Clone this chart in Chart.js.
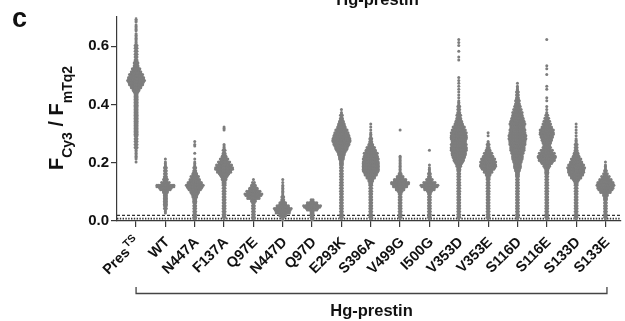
<!DOCTYPE html>
<html>
<head>
<meta charset="utf-8">
<script src="https://cdn.jsdelivr.net/npm/chart.js@4.4.1/dist/chart.umd.min.js"></script>
<style>
html, body { margin: 0; padding: 0; background: #fff; }
</style>
</head>
<body>
<canvas id="chart" width="625" height="321"></canvas>
<script>
const FONT = '"Liberation Sans", Arial, sans-serif';

// --- data ---
const categories = ["Pres", "WT", "N447A", "F137A", "Q97E", "N447D", "Q97D", "E293K", "S396A",
    "V499G", "I500G", "V353D", "V353E", "S116D", "S116E", "S133D", "S133E"];
const catSup = ["TS", "", "", "", "", "", "", "", "", "", "", "", "", "", "", "", ""];
const yTicks = [0, 0.2, 0.4, 0.6];

// each swarm: value of the top bin, then dots counted per 0.01 bin going down
const binStep = 0.01;
const binTop = [0.70, 0.21, 0.27, 0.32, 0.14, 0.14, 0.07, 0.38, 0.33, 0.31, 0.24, 0.62, 0.30, 0.47, 0.62, 0.33, 0.20];
const binCounts = [
    [1,2,1,2,2,1,2,2,2,2, 3,3,3,3,3,4, 5,6,9,12,15,18,19,16,12,8,5,4, 4,4,4,4,4,4,4,4,4,4,4,4,4, 3,3,3,3,3, 2,2,2,1,1],
    [1,2,2,3,3,3,4,5,9,20,13,6,4,4,4,4,3,3,2],
    [1,2,0,0,1,0,1,2,2,3,4,6,9,12,16,19,15,10,7,5,4,3,3,3,3,3,3],
    [2,1,0,0,0,0,2,2,3,4,6,9,13,17,20,16,11,7,5,4,3,3,3,3,3,3,3,3,3,3,3,3],
    [1,3,6,10,15,19,14,6,3,3,3,3,3,3],
    [1,1,2,2,2,2,3,4,8,14,19,16,8,3,2],
    [4,12,19,13,4,3,3,2],
    [1,2,3,4,6,8,10,13,16,18,20,19,17,14,11,8,6,5,4,3,3,3,3,3,3,3,3,3,3,3,3,3,3,3,3,3,3,3],
    [1,1,1,2,2,3,4,6,9,12,15,16,17,18,18,18,17,14,10,6,4,3,3,3,3,3,3,3,3,3,3,3,3],
    [1,0,0,0,0,0,0,0,0,2,2,2,2,2,2,4,8,14,20,16,10,5,3,3,3,3,3,3,3,3,3],
    [1,0,0,0,0,1,2,2,3,4,7,13,19,12,5,3,3,3,3,3,3,3,3,3],
    [1,1,1,0,1,0,1,1,0,0,0,0,0,1,1,1,1,1,1,1,1,2,2,3,3,4,5,6,8,10,13,15,17,18,17,16,17,18,17,16,14,12,9,6,4,
     3,3,3,3,3,3,3,3,3,3,3,3,3,3,3,3,3],
    [1,1,0,2,3,4,6,9,12,15,17,18,15,10,6,4,3,3,3,3,3,3,3,3,3,3,3,3,3,3],
    [1,2,2,3,3,4,5,6,7,9,11,12,14,16,17,16,17,18,19,19,18,17,16,15,13,12,11,9,8,7,5,4,
     3,3,3,3,3,3,3,3,3,3,3,3,3,3,3],
    [1,0,0,0,0,0,0,0,0,1,1,0,1,0,0,0,1,1,0,0,1,1,0,1,1,2,3,5,7,9,12,15,16,14,12,10,8,9,13,17,20,18,13,8,5,4,
     3,3,3,3,3,3,3,3,3,3,3,3,3,3,3,3],
    [1,1,1,1,1,2,2,3,3,4,6,8,11,14,17,19,18,16,12,7,4,3,3,3,3,3,3,3,3,3,3,3,3],
    [1,2,2,3,5,9,14,18,19,17,12,6,4,3,3,3,3,3,3,3]
];
const dashedLevel = 0.019;
const dottedLevel = 0.008;

const DOT_DX = 0.064;   // horizontal dot spacing, in category units

// swarm dots: each bin split into two rows, dots centred on the category
function buildSwarm(i) {
    const pts = [];
    binCounts[i].forEach((n, b) => {
        const v = binTop[i] - b * binStep;
        const rows = [[Math.ceil(n / 2), v + binStep / 4], [Math.floor(n / 2), v - binStep / 4]];
        rows.forEach(([k, y]) => {
            for (let j = 0; j < k; j++) {
                pts.push({ x: i + (j - (k - 1) / 2) * DOT_DX, y: y });
            }
        });
    });
    return pts;
}

const X_MIN = -0.65, X_MAX = 16.53;

const datasets = categories.map((c, i) => ({
    label: c,
    data: buildSwarm(i),
    pointRadius: 1.5,
    pointBackgroundColor: "#7d7d7d",
    pointBorderWidth: 0,
    showLine: false
}));
datasets.push({
    data: [{ x: X_MIN, y: dashedLevel }, { x: X_MAX, y: dashedLevel }],
    showLine: true, pointRadius: 0, borderColor: "#333", borderWidth: 1.2, borderDash: [3, 2]
});
datasets.push({
    data: [{ x: X_MIN, y: dottedLevel }, { x: X_MAX, y: dottedLevel }],
    showLine: true, pointRadius: 0, borderColor: "#333", borderWidth: 1.6, borderDash: [1.4, 1.4]
});

// text and bracket drawn over the chart
const overlay = {
    id: "overlay",
    afterDraw(chart) {
        const ctx = chart.ctx;
        const xs = chart.scales.x, ys = chart.scales.y;
        ctx.save();
        ctx.fillStyle = "#111";

        // rotated category labels
        categories.forEach((c, i) => {
            const px = xs.getPixelForValue(i);
            ctx.save();
            ctx.translate(px + 2, ys.bottom + 19);
            ctx.rotate(-Math.PI / 4);
            ctx.textAlign = "right";
            ctx.textBaseline = "middle";
            let end = 0;
            if (catSup[i]) {
                ctx.font = "bold 10.5px " + FONT;
                ctx.fillText(catSup[i], 0, -5);
                end = -ctx.measureText(catSup[i]).width - 1;
            }
            ctx.font = "bold 14.5px " + FONT;
            ctx.fillText(c, end, 0);
            ctx.restore();
        });

        // y title with subscripts
        const parts = [["F", 20, 0], ["Cy3", 14, 9], [" / F", 20, 0], ["mTq2", 14, 9]];
        ctx.save();
        ctx.translate(63, 118);
        ctx.rotate(-Math.PI / 2);
        ctx.textAlign = "left";
        ctx.textBaseline = "alphabetic";
        let total = 0;
        parts.forEach(p => { ctx.font = "bold " + p[1] + "px " + FONT; total += ctx.measureText(p[0]).width; });
        let x = -total / 2;
        parts.forEach(p => {
            ctx.font = "bold " + p[1] + "px " + FONT;
            ctx.fillText(p[0], x, p[2]);
            x += ctx.measureText(p[0]).width;
        });
        ctx.restore();

        // panel letter and titles
        ctx.textAlign = "left";
        ctx.textBaseline = "alphabetic";
        ctx.font = "bold 27px " + FONT;
        ctx.fillText("c", 12, 27);
        ctx.textAlign = "center";
        ctx.font = "bold 16.5px " + FONT;
        ctx.fillText("Hg-prestin", 377.5, 5);

        // bracket under the labels
        const bl = xs.getPixelForValue(0), br = xs.getPixelForValue(16) + 1.5;
        ctx.strokeStyle = "#444";
        ctx.lineWidth = 1.3;
        ctx.beginPath();
        ctx.moveTo(bl, 287);
        ctx.lineTo(bl, 293.5);
        ctx.lineTo(br, 293.5);
        ctx.lineTo(br, 287);
        ctx.stroke();
        ctx.textBaseline = "middle";
        ctx.fillText("Hg-prestin", (bl + br) / 2, 311.5);
        ctx.restore();
    }
};

new Chart(document.getElementById("chart").getContext("2d"), {
    type: "scatter",
    data: { datasets: datasets },
    options: {
        responsive: false,
        animation: false,
        events: [],
        layout: { padding: { top: 17, left: 0, right: 0, bottom: 0 } },
        plugins: { legend: { display: false }, tooltip: { enabled: false } },
        scales: {
            x: {
                type: "linear",
                min: X_MIN,
                max: X_MAX,
                afterBuildTicks: s => { s.ticks = categories.map((c, i) => ({ value: i })); },
                afterFit: s => { s.height = 100; },
                ticks: { display: false },
                grid: { drawOnChartArea: false, drawTicks: true, tickLength: 6, color: "#3a3a3a", lineWidth: 1.2 },
                border: { color: "#3a3a3a", width: 1.2 }
            },
            y: {
                min: 0,
                max: 0.7,
                afterBuildTicks: s => { s.ticks = yTicks.map(v => ({ value: v })); },
                afterFit: s => { s.width = 117; },
                ticks: {
                    callback: v => v.toFixed(1),
                    font: { family: FONT, size: 15, weight: "bold" },
                    color: "#111",
                    padding: 2
                },
                grid: { drawOnChartArea: false, drawTicks: true, tickLength: 6, color: "#3a3a3a", lineWidth: 1.2 },
                border: { color: "#3a3a3a", width: 1.2 }
            }
        }
    },
    plugins: [overlay]
});
</script>
</body>
</html>
